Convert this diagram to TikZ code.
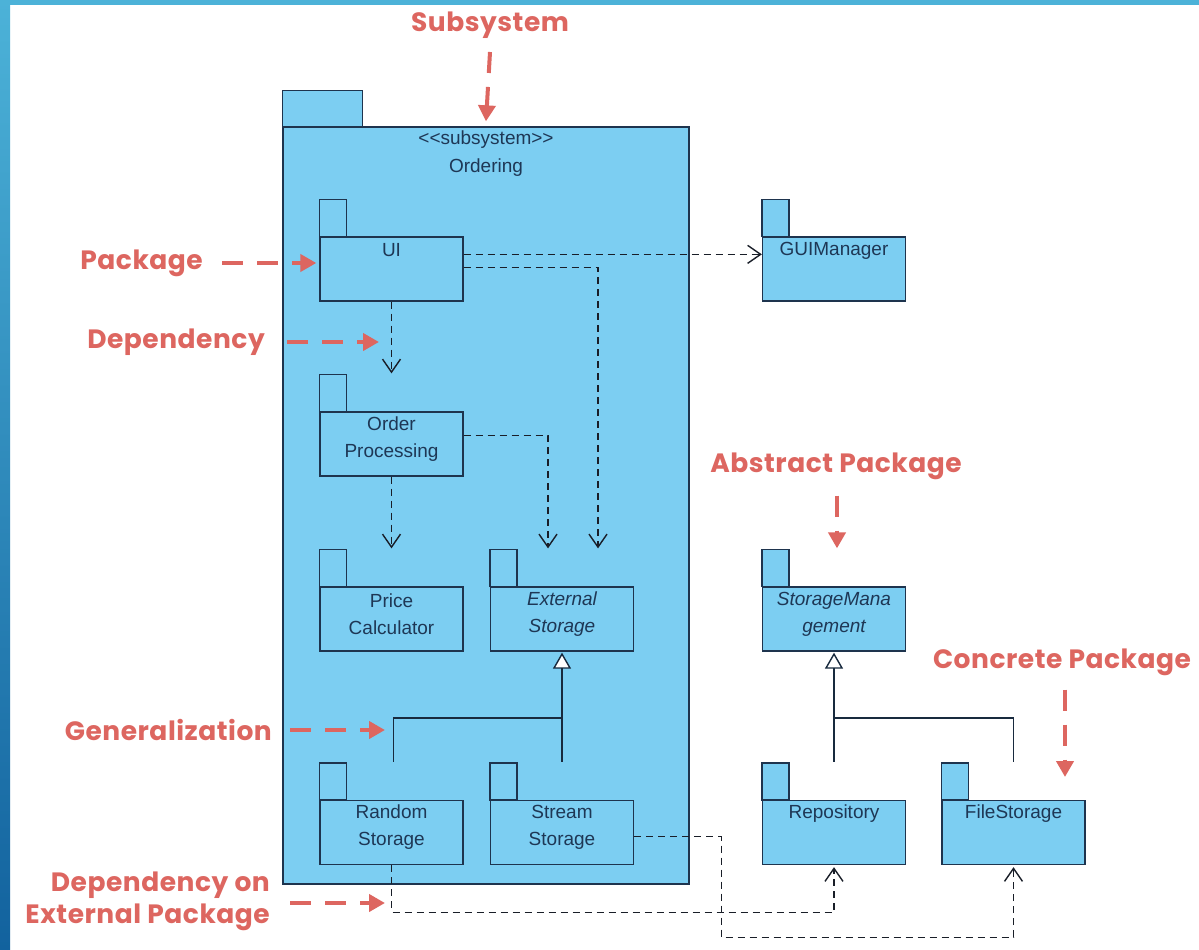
\documentclass[tikz,border=0pt]{standalone}
\usepackage{fontspec}
\setmainfont{Liberation Sans}
\newfontfamily\annfont{Poppins}[LetterSpace=2]
\usetikzlibrary{arrows.meta,calc}
\definecolor{pkgfill}{RGB}{124,206,242}
\definecolor{pkgedge}{RGB}{30,52,78}
\definecolor{pkgtext}{RGB}{30,55,85}
\definecolor{annred}{RGB}{221,102,96}
\definecolor{frameA}{RGB}{76,178,216}
\definecolor{frameB}{RGB}{18,98,158}
\definecolor{depcol}{RGB}{25,30,40}
\newcommand\pkgtab[1]{\draw[pkgline] (#1.north west) rectangle ++(27,-37);}
\begin{document}
\begin{tikzpicture}[x=1pt,y=-1pt,
  pkgline/.style={draw=pkgedge, fill=pkgfill, line width=1.3pt},
  pkg/.style={pkgline, minimum width=143pt, minimum height=64pt, inner sep=0pt},
  ptext/.style={text=pkgtext, font=\fontsize{19}{27}\selectfont, align=center, inner sep=0pt},
  dep/.style={draw=depcol, line width=1.3pt, dash pattern=on 7pt off 5pt, -{Straight Barb[length=13pt,width=18pt,line width=1.4pt]}},
  gen/.style={draw=pkgedge!80!black, line width=1.4pt},
  gentip/.style={gen, -{Triangle[open,fill=white,length=16pt,width=18pt,line width=1.4pt]}},
  ann/.style={text=annred, font=\annfont\bfseries\fontsize{26.5}{32}\selectfont, inner sep=0pt, align=right},
  annarrow/.style={draw=annred, line width=4pt, dash pattern=on 21pt off 14pt, -{Triangle[length=16pt,width=17pt]}}
]
\useasboundingbox (0,0) rectangle (1199,950);
\fill[white] (0,0) rectangle (1199,950);
\shade[top color=frameA, bottom color=frameB] (0,0) rectangle (10,950);
\fill[frameA] (0,0) rectangle (1199,5);

% subsystem
\node[pkgline, minimum width=406pt, minimum height=757pt, inner sep=0pt] (ordering) at (486,505.5) {};
\draw[pkgline] (ordering.north west) rectangle ++(80,-36);
\node[ptext] (stereo) at ([yshift=-13pt]ordering.north) {{<}{<}subsystem{>}{>}};
\node[ptext] (ordname) at ([yshift=-41pt]ordering.north) {Ordering};

% packages
\node[pkg] (ui)   at (391.5,269) {};   \pkgtab{ui}
\node[pkg] (op)   at (391.5,444) {};   \pkgtab{op}
\node[pkg] (pc)   at (391.5,619) {};   \pkgtab{pc}
\node[pkg] (ext)  at (562,619) {};     \pkgtab{ext}
\node[pkg] (rnd)  at (391.5,832.5) {}; \pkgtab{rnd}
\node[pkg] (str)  at (562,832.5) {};   \pkgtab{str}
\node[pkg] (gui)  at (834,269) {};     \pkgtab{gui}
\node[pkg] (sm)   at (834,619) {};     \pkgtab{sm}
\node[pkg] (repo) at (834,832.5) {};   \pkgtab{repo}
\node[pkg] (fs)   at (1013.5,832.5) {}; \pkgtab{fs}

\node[ptext] at ([yshift=-14pt]ui.north) {UI};
\node[ptext] at ([yshift=-27.5pt]op.north) {Order\\Processing};
\node[ptext] at ([yshift=-27.5pt]pc.north) {Price\\Calculator};
\node[ptext, font=\itshape\fontsize{19}{27}\selectfont] at ([yshift=-27.5pt]ext.north) {External\\Storage};
\node[ptext] at ([yshift=-27.5pt]rnd.north) {Random\\Storage};
\node[ptext] at ([yshift=-27.5pt]str.north) {Stream\\Storage};
\node[ptext] at ([yshift=-14pt]gui.north) {GUIManager};
\node[ptext, font=\itshape\fontsize{19}{27}\selectfont] at ([yshift=-27.5pt]sm.north) {StorageMana\\gement};
\node[ptext] at ([yshift=-14pt]repo.north) {Repository};
\node[ptext] at ([yshift=-14pt]fs.north) {FileStorage};

% dependencies
\draw[dep] ([yshift=-18pt]ui.north east) -- ([yshift=-18pt]gui.north west);
\draw[dep] ([yshift=-31pt]ui.north east) -| ([xshift=36pt,yshift=38pt]ext.north);
\draw[dep] (ui.south) -- ([yshift=38pt]op.north);
\draw[dep] (op.south) -- ([yshift=38pt]pc.north);
\draw[dep] ([yshift=-24pt]op.north east) -| ([xshift=-14pt,yshift=38pt]ext.north);
\draw[dep] (rnd.south) |- ([yshift=-47pt]repo.south) -- ([yshift=-2pt]repo.south);
\draw[dep] ([yshift=-4pt]str.east) -- ++(87,0) |- ([yshift=-72pt]fs.south) -- ([yshift=-2pt]fs.south);

% generalizations
\coordinate (g1) at ($(str.north)+(0,-82)$);
\draw[gentip] ([yshift=38pt]str.north) -- ([yshift=-1pt]ext.south);
\draw[gen] ([xshift=2pt,yshift=38pt]rnd.north) |- (g1);
\coordinate (g2) at ($(repo.north)+(0,-82)$);
\draw[gentip] ([yshift=38pt]repo.north) -- ([yshift=-1pt]sm.south);
\draw[gen] ([yshift=38pt]fs.north) |- (g2);

% annotations
\node[ann] (lsub) at (490,25) {Subsystem};
\node[ann, anchor=east] (lpkg) at (203,263) {Package};
\node[ann, anchor=east] (ldep) at (265,342) {Dependency};
\node[ann] (labs) at (836,466) {Abstract Package};
\node[ann] (lcon) at (1062,662) {Concrete Package};
\node[ann, anchor=east] (lgen) at (272,730) {Generalization};
\node[ann, anchor=east] (lext) at (270,901) {Dependency on\\External Package};

\coordinate (tdep) at (379,342);
\coordinate (tgen) at (385,730);
\coordinate (text) at (385,903);
\coordinate (tcon) at (1065,777);
\draw[annarrow] (490,52) -- ([yshift=5pt]ordering.north);
\draw[annarrow, shorten <=19pt] (lpkg.east) -- ([xshift=-3pt]ui.west |- lpkg.east);
\draw[annarrow, shorten <=22pt] (ldep.east) -- (tdep);
\draw[annarrow, shorten <=16pt] ([xshift=1pt]labs.south) -- ([xshift=3pt, yshift=38pt]sm.north);
\draw[annarrow, shorten <=14pt] ([xshift=3pt]lcon.south) -- (tcon);
\draw[annarrow, shorten <=18pt] (lgen.east) -- (tgen);
\draw[annarrow, shorten <=20pt] (lext.east |- text) -- (text);
\end{tikzpicture}
\end{document}
